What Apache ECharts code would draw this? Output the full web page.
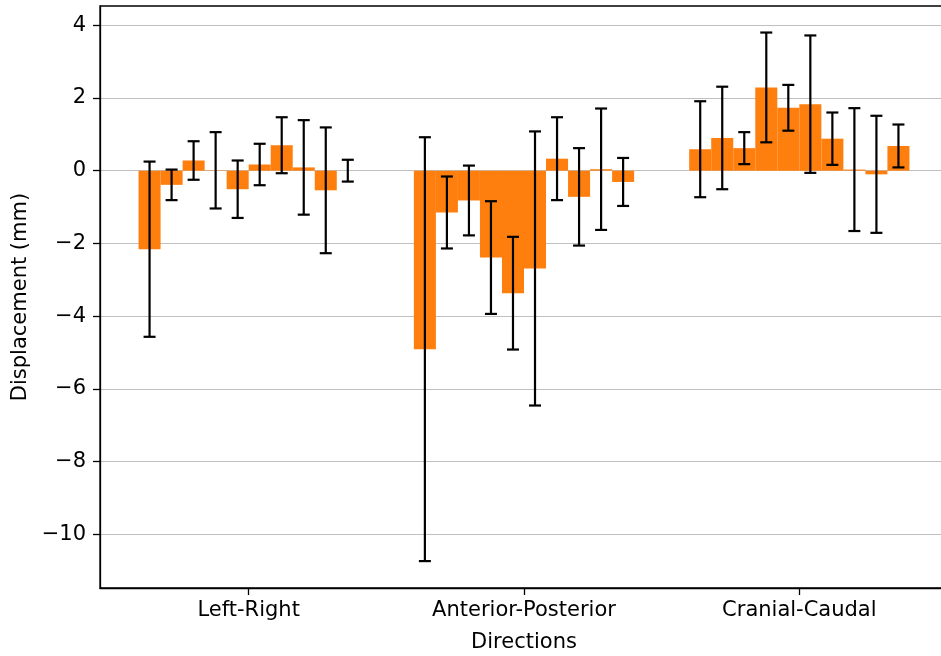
<!DOCTYPE html>
<html>
<head>
<meta charset="utf-8">
<script src="https://cdn.jsdelivr.net/npm/echarts@6/dist/echarts.min.js"></script>
<style>
  html, body { margin: 0; padding: 0; background: #fff; }
  #chart { width: 941px; height: 656px; }
</style>
</head>
<body>
<div id="chart"></div>
<script>
// data, 10 bars per direction
var directions = ['Left-Right', 'Anterior-Posterior', 'Cranial-Caudal'];
var meanLR = [-2.16, -0.39, 0.28, 0.01, -0.51, 0.17, 0.70, 0.09, -0.54, 0.00];
var errLR  = [2.41, 0.42, 0.53, 1.05, 0.79, 0.57, 0.77, 1.30, 1.73, 0.30];
var meanAP = [-4.91, -1.15, -0.82, -2.39, -3.37, -2.69, 0.33, -0.72, 0.04, -0.31];
var errAP  = [5.83, 0.99, 0.96, 1.55, 1.55, 3.77, 1.14, 1.34, 1.67, 0.66];
var meanCC = [0.59, 0.90, 0.62, 2.29, 1.73, 1.83, 0.88, 0.03, -0.10, 0.68];
var errCC  = [1.32, 1.41, 0.44, 1.51, 0.63, 1.89, 0.72, 1.69, 1.61, 0.59];
var yTicks = [-10, -8, -6, -4, -2, 0, 2, 4];

var BAR_W = 0.08;
var FONT = 'DejaVu Sans';

// rows of [x, mean, err]
var rows = [];
[[meanLR, errLR], [meanAP, errAP], [meanCC, errCC]].forEach(function (pair, g) {
    var n = pair[0].length;
    for (var i = 0; i < n; i++) {
        rows.push([g + (i - (n - 1) / 2) * BAR_W, pair[0][i], pair[1][i]]);
    }
});

function renderBar(params, api) {
    var x = api.value(0), y = api.value(1);
    var p0 = api.coord([x - BAR_W / 2, 0]);
    var p1 = api.coord([x + BAR_W / 2, y]);
    return {
        type: 'rect',
        shape: { x: p0[0], y: Math.min(p0[1], p1[1]), width: p1[0] - p0[0], height: Math.abs(p1[1] - p0[1]) },
        style: { fill: '#ff7f0e' }
    };
}

function renderErr(params, api) {
    var x = api.value(0), y = api.value(1), e = api.value(2);
    var hi = api.coord([x, y + e]);
    var lo = api.coord([x, y - e]);
    var cap = 6;
    var st = { stroke: '#000', lineWidth: 2.2 };
    return {
        type: 'group',
        children: [
            { type: 'line', shape: { x1: hi[0], y1: hi[1], x2: lo[0], y2: lo[1] }, style: st },
            { type: 'line', shape: { x1: hi[0] - cap, y1: hi[1], x2: hi[0] + cap, y2: hi[1] }, style: st },
            { type: 'line', shape: { x1: lo[0] - cap, y1: lo[1], x2: lo[0] + cap, y2: lo[1] }, style: st }
        ]
    };
}

var chart = echarts.init(document.getElementById('chart'));
chart.setOption({
    animation: false,
    backgroundColor: '#fff',
    textStyle: { fontFamily: FONT },
    grid: {
        left: 100, width: 848, top: 6, height: 582,
        outerBoundsMode: 'none',
        show: true, borderColor: '#000', borderWidth: 1.3, backgroundColor: 'transparent'
    },
    xAxis: {
        type: 'value',
        min: -0.54, max: 2.54,
        name: 'Directions',
        nameLocation: 'middle',
        nameGap: 44,
        nameTextStyle: { fontFamily: FONT, fontSize: 21, color: '#000' },
        axisLine: { show: true, onZero: false, lineStyle: { color: '#000', width: 1.3 } },
        axisTick: { show: true, inside: false, length: 7, customValues: [0, 1, 2], lineStyle: { color: '#000', width: 1.3 } },
        axisLabel: {
            customValues: [0, 1, 2],
            margin: 12,
            fontFamily: FONT, fontSize: 21, color: '#000',
            formatter: function (v) { return directions[Math.round(v)]; }
        },
        splitLine: { show: false }
    },
    yAxis: {
        type: 'value',
        min: -11.48, max: 4.53,
        name: 'Displacement (mm)',
        nameLocation: 'middle',
        nameRotate: 90,
        nameGap: 68,
        nameTextStyle: { fontFamily: FONT, fontSize: 21, color: '#000' },
        axisLine: { show: true, onZero: false, lineStyle: { color: '#000', width: 1.3 } },
        axisTick: { show: true, inside: false, length: 7, customValues: yTicks, lineStyle: { color: '#000', width: 1.3 } },
        axisLabel: {
            customValues: yTicks,
            margin: 14,
            fontFamily: FONT, fontSize: 21, color: '#000',
            formatter: function (v) { return String(v).replace('-', '\u2212'); }
        },
        splitLine: { show: true, lineStyle: { color: '#c0c0c0', width: 1.2 } }
    },
    series: [
        { type: 'custom', renderItem: renderBar, data: rows, z: 2, clip: true },
        { type: 'custom', renderItem: renderErr, data: rows, z: 3, clip: false }
    ]
});
</script>
</body>
</html>
